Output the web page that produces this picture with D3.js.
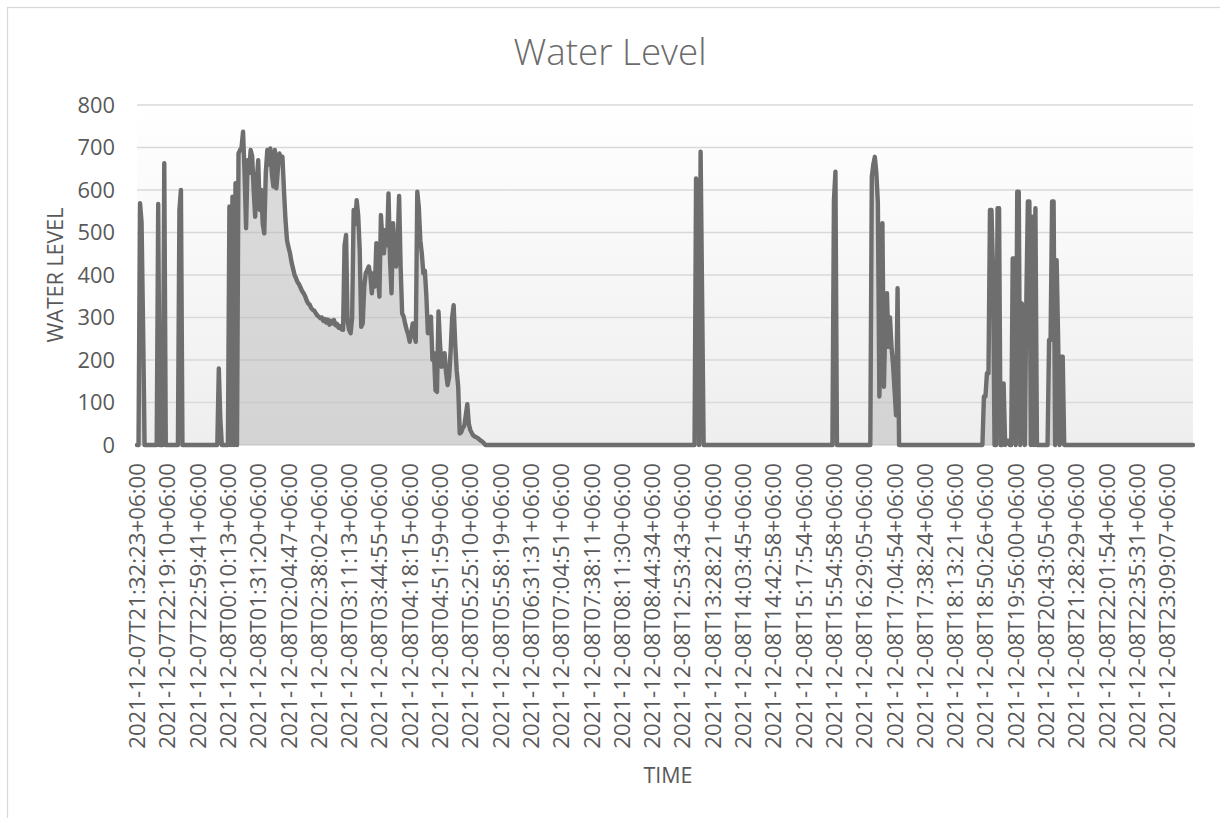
<!DOCTYPE html>
<html><head><meta charset="utf-8">
<script src="https://cdn.jsdelivr.net/npm/d3@7"></script>
<style>
body{margin:0;background:#fff;}
svg{display:block;}
text{font-family:'Open Sans','Noto Sans',sans-serif;}
</style>
</head><body>
<svg id="chart" width="1220" height="818"></svg>
<script>
// ---------- data ----------
const chartTitle = "Water Level";
const yAxisTitle = "WATER LEVEL";
const xAxisTitle = "TIME";
const labelEvery = 20; // one time label for every 20 categories
const tickLabels = [
  "2021-12-07T21:32:23+06:00","2021-12-07T22:19:10+06:00","2021-12-07T22:59:41+06:00",
  "2021-12-08T00:10:13+06:00","2021-12-08T01:31:20+06:00","2021-12-08T02:04:47+06:00",
  "2021-12-08T02:38:02+06:00","2021-12-08T03:11:13+06:00","2021-12-08T03:44:55+06:00",
  "2021-12-08T04:18:15+06:00","2021-12-08T04:51:59+06:00","2021-12-08T05:25:10+06:00",
  "2021-12-08T05:58:19+06:00","2021-12-08T06:31:31+06:00","2021-12-08T07:04:51+06:00",
  "2021-12-08T07:38:11+06:00","2021-12-08T08:11:30+06:00","2021-12-08T08:44:34+06:00",
  "2021-12-08T12:53:43+06:00","2021-12-08T13:28:21+06:00","2021-12-08T14:03:45+06:00",
  "2021-12-08T14:42:58+06:00","2021-12-08T15:17:54+06:00","2021-12-08T15:54:58+06:00",
  "2021-12-08T16:29:05+06:00","2021-12-08T17:04:54+06:00","2021-12-08T17:38:24+06:00",
  "2021-12-08T18:13:21+06:00","2021-12-08T18:50:26+06:00","2021-12-08T19:56:00+06:00",
  "2021-12-08T20:43:05+06:00","2021-12-08T21:28:29+06:00","2021-12-08T22:01:54+06:00",
  "2021-12-08T22:35:31+06:00","2021-12-08T23:09:07+06:00"
];
const yTickValues = [0,100,200,300,400,500,600,700,800];
const waterLevel = [
  0,0,569,525,282,0,0,0,0,0,
  0,0,0,0,567,0,0,0,663,0,
  0,0,0,0,0,0,0,0,553,600,
  0,0,0,0,0,0,0,0,0,0,
  0,0,0,0,0,0,0,0,0,0,
  0,0,0,0,180,60,0,0,0,0,
  0,561,0,584,0,616,0,686,694,700,
  737,640,510,670,640,694,680,600,537,620,
  670,553,600,520,498,640,694,660,698,640,
  608,694,604,650,686,670,678,600,530,482,
  465,451,430,415,400,392,383,378,370,362,
  357,350,340,333,330,322,318,316,310,305,
  302,298,300,292,296,288,295,283,292,286,
  294,282,285,276,280,272,271,470,494,290,
  271,263,300,553,520,576,540,459,278,286,
  373,405,412,420,400,357,404,373,475,400,
  349,541,480,451,506,470,592,435,357,522,
  459,420,470,586,420,310,302,285,271,260,
  243,265,286,260,243,596,560,482,450,404,
  410,350,263,290,302,200,216,129,125,314,
  239,184,200,216,170,141,160,220,300,329,
  240,176,137,27,30,40,45,70,96,50,
  35,28,22,20,18,16,13,10,8,4,
  0,0,0,0,0,0,0,0,0,0,
  0,0,0,0,0,0,0,0,0,0,
  0,0,0,0,0,0,0,0,0,0,
  0,0,0,0,0,0,0,0,0,0,
  0,0,0,0,0,0,0,0,0,0,
  0,0,0,0,0,0,0,0,0,0,
  0,0,0,0,0,0,0,0,0,0,
  0,0,0,0,0,0,0,0,0,0,
  0,0,0,0,0,0,0,0,0,0,
  0,0,0,0,0,0,0,0,0,0,
  0,0,0,0,0,0,0,0,0,0,
  0,0,0,0,0,0,0,0,0,0,
  0,0,0,0,0,0,0,0,0,0,
  0,0,0,0,0,0,0,0,0,627,
  600,0,690,345,0,0,0,0,0,0,
  0,0,0,0,0,0,0,0,0,0,
  0,0,0,0,0,0,0,0,0,0,
  0,0,0,0,0,0,0,0,0,0,
  0,0,0,0,0,0,0,0,0,0,
  0,0,0,0,0,0,0,0,0,0,
  0,0,0,0,0,0,0,0,0,0,
  0,0,0,0,0,0,0,0,0,0,
  0,0,0,0,0,0,0,0,0,0,
  576,643,0,0,0,0,0,0,0,0,
  0,0,0,0,0,0,0,0,0,0,
  0,0,0,0,0,631,660,678,640,570,
  114,300,522,137,300,357,231,300,231,190,
  130,70,369,0,0,0,0,0,0,0,
  0,0,0,0,0,0,0,0,0,0,
  0,0,0,0,0,0,0,0,0,0,
  0,0,0,0,0,0,0,0,0,0,
  0,0,0,0,0,0,0,0,0,0,
  0,0,0,0,0,0,0,0,0,114,
  114,169,169,553,553,412,0,0,557,557,
  0,0,145,0,10,10,0,0,439,439,
  0,596,596,0,333,271,0,341,573,573,
  0,537,0,557,0,0,0,0,0,0,
  0,0,247,247,573,573,0,435,247,0,
  208,208,0,0,0,0,0,0,0,0,
  0,0,0,0,0,0,0,0,0,0,
  0,0,0,0,0,0,0,0,0,0,
  0,0,0,0,0,0,0,0,0,0,
  0,0,0,0,0,0,0,0,0,0,
  0,0,0,0,0,0,0,0,0,0,
  0,0,0,0,0,0,0,0,0,0,
  0,0,0,0,0,0,0,0,0,0,
  0,0,0,0,0,0,0,0
];

// ---------- layout ----------
const svg = d3.select("#chart");
const plot = {left:137, right:1193, top:105, bottom:445};
const x = d3.scaleLinear().domain([0, waterLevel.length-1]).range([plot.left, plot.right]);
const y = d3.scaleLinear().domain([0, 800]).range([plot.bottom, plot.top]);
const textCol = "#595959";

// chart border
svg.append("rect").attr("x",7.5).attr("y",7.5).attr("width",1240).attr("height",840)
  .attr("fill","#fff").attr("stroke","#d9d9d9").attr("stroke-width",1.3);

// plot background gradient
const defs = svg.append("defs");
const g = defs.append("linearGradient").attr("id","bg").attr("x1",0).attr("x2",0).attr("y1",0).attr("y2",1);
g.append("stop").attr("offset","0%").attr("stop-color","#ffffff");
g.append("stop").attr("offset","100%").attr("stop-color","#eeeeee");
svg.append("rect").attr("x",plot.left).attr("y",plot.top)
  .attr("width",plot.right-plot.left).attr("height",plot.bottom-plot.top).attr("fill","url(#bg)");

// gridlines
svg.append("g").selectAll("line").data(yTickValues).join("line")
  .attr("x1",plot.left).attr("x2",plot.right)
  .attr("y1",d=>y(d)).attr("y2",d=>y(d))
  .attr("stroke","#d9d9d9").attr("stroke-width",1.3);

// area + line
const idx = waterLevel.map((v,i)=>i);
svg.append("path").datum(idx)
  .attr("d", d3.area().x(i=>x(i)).y0(y(0)).y1(i=>y(waterLevel[i])))
  .attr("fill","#b4b4b4").attr("fill-opacity",0.45);
svg.append("path").datum(idx)
  .attr("d", d3.line().x(i=>x(i)).y(i=>y(waterLevel[i])))
  .attr("fill","none").attr("stroke","#6e6e6e").attr("stroke-width",4.4)
  .attr("stroke-linejoin","round").attr("stroke-linecap","round");

// measure helper to size fonts so text lengths match
function fitSize(str, base, target, weight){
  const t = svg.append("text").attr("font-size",base).attr("font-weight",weight||400).text(str);
  const w = t.node().getComputedTextLength(); t.remove();
  return base*target/w;
}
const tickSize = fitSize(tickLabels[0], 22, 286);
const ySize = fitSize("800", 22, 37.5);

// y tick labels
svg.append("g").selectAll("text").data(yTickValues).join("text")
  .attr("x",115).attr("y",d=>y(d)).attr("dy","0.36em")
  .attr("text-anchor","end").attr("font-size",ySize).attr("fill",textCol)
  .text(d=>d);

// x tick labels
svg.append("g").selectAll("text").data(tickLabels).join("text")
  .attr("transform",(d,j)=>`translate(${x(j*labelEvery)},463) rotate(-90)`)
  .attr("dy","0.36em").attr("text-anchor","end")
  .attr("font-size",tickSize).attr("fill",textCol).text(d=>d);

// title
const tSize = fitSize(chartTitle, 30, 193, 300);
svg.append("text").attr("x",610).attr("y",52).attr("dy","0.36em").attr("text-anchor","middle")
  .attr("font-size",tSize).attr("font-weight",300).attr("fill","#6b6b6b").text(chartTitle);

// axis titles
const yTSize = fitSize(yAxisTitle, 22, 135);
svg.append("text").attr("transform","translate(55,275) rotate(-90)").attr("dy","0.36em")
  .attr("text-anchor","middle").attr("font-size",yTSize).attr("fill",textCol).text(yAxisTitle);
svg.append("text").attr("x",668).attr("y",775).attr("dy","0.36em").attr("text-anchor","middle")
  .attr("font-size",yTSize).attr("fill",textCol).text(xAxisTitle);
</script>
</body></html>
